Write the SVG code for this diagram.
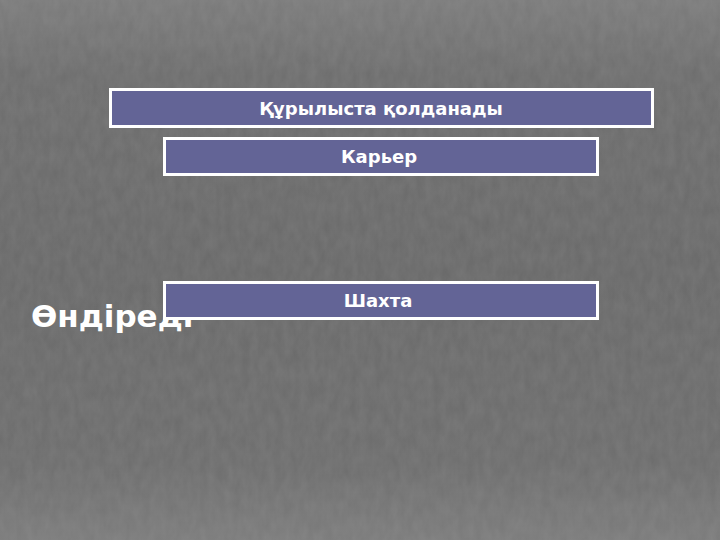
<svg xmlns="http://www.w3.org/2000/svg" width="720" height="540" viewBox="0 0 720 540">
  <defs>
    <linearGradient id="bg" x1="0" y1="0" x2="0" y2="1">
      <stop offset="0" stop-color="#7b7b7b"/>
      <stop offset="0.14" stop-color="#6d6d6d"/>
      <stop offset="0.5" stop-color="#696969"/>
      <stop offset="0.86" stop-color="#6d6d6d"/>
      <stop offset="1" stop-color="#7b7b7b"/>
    </linearGradient>
    <filter id="tex" x="0" y="0" width="100%" height="100%">
      <feTurbulence type="fractalNoise" baseFrequency="0.12 0.06" numOctaves="3" seed="7" result="n"/>
      <feColorMatrix in="n" type="matrix" values="0 0 0 0 0.5  0 0 0 0 0.5  0 0 0 0 0.5  0 0 0 0.16 0"/>
    </filter>
    <style>
      .box { fill: #636496; stroke: #ffffff; stroke-width: 3; }
      .lbl { font-family: "DejaVu Sans", Verdana, sans-serif; font-weight: bold; font-size: 18px; fill: #ffffff; text-anchor: middle; }
      .big { font-family: "DejaVu Sans", Verdana, sans-serif; font-weight: bold; font-size: 31px; fill: #ffffff; }
    </style>
  </defs>
  <rect x="0" y="0" width="720" height="540" fill="url(#bg)"/>
  <rect x="0" y="0" width="720" height="540" filter="url(#tex)"/>

  <g id="title">
    <text class="big" x="31" y="327">Өндіреді</text>
  </g>

  <g id="connectors"></g>

  <g id="node-qurylysta">
    <rect class="box" x="110.5" y="89.5" width="542" height="37"/>
    <text class="lbl" x="381" y="115">Құрылыста қолданады</text>
  </g>
  <g id="node-karer">
    <rect class="box" x="164.5" y="138.5" width="433" height="36"/>
    <text class="lbl" x="379" y="163">Карьер</text>
  </g>
  <g id="node-shakhta">
    <rect class="box" x="164.5" y="282.5" width="433" height="36"/>
    <text class="lbl" x="378" y="307">Шахта</text>
  </g>
</svg>
